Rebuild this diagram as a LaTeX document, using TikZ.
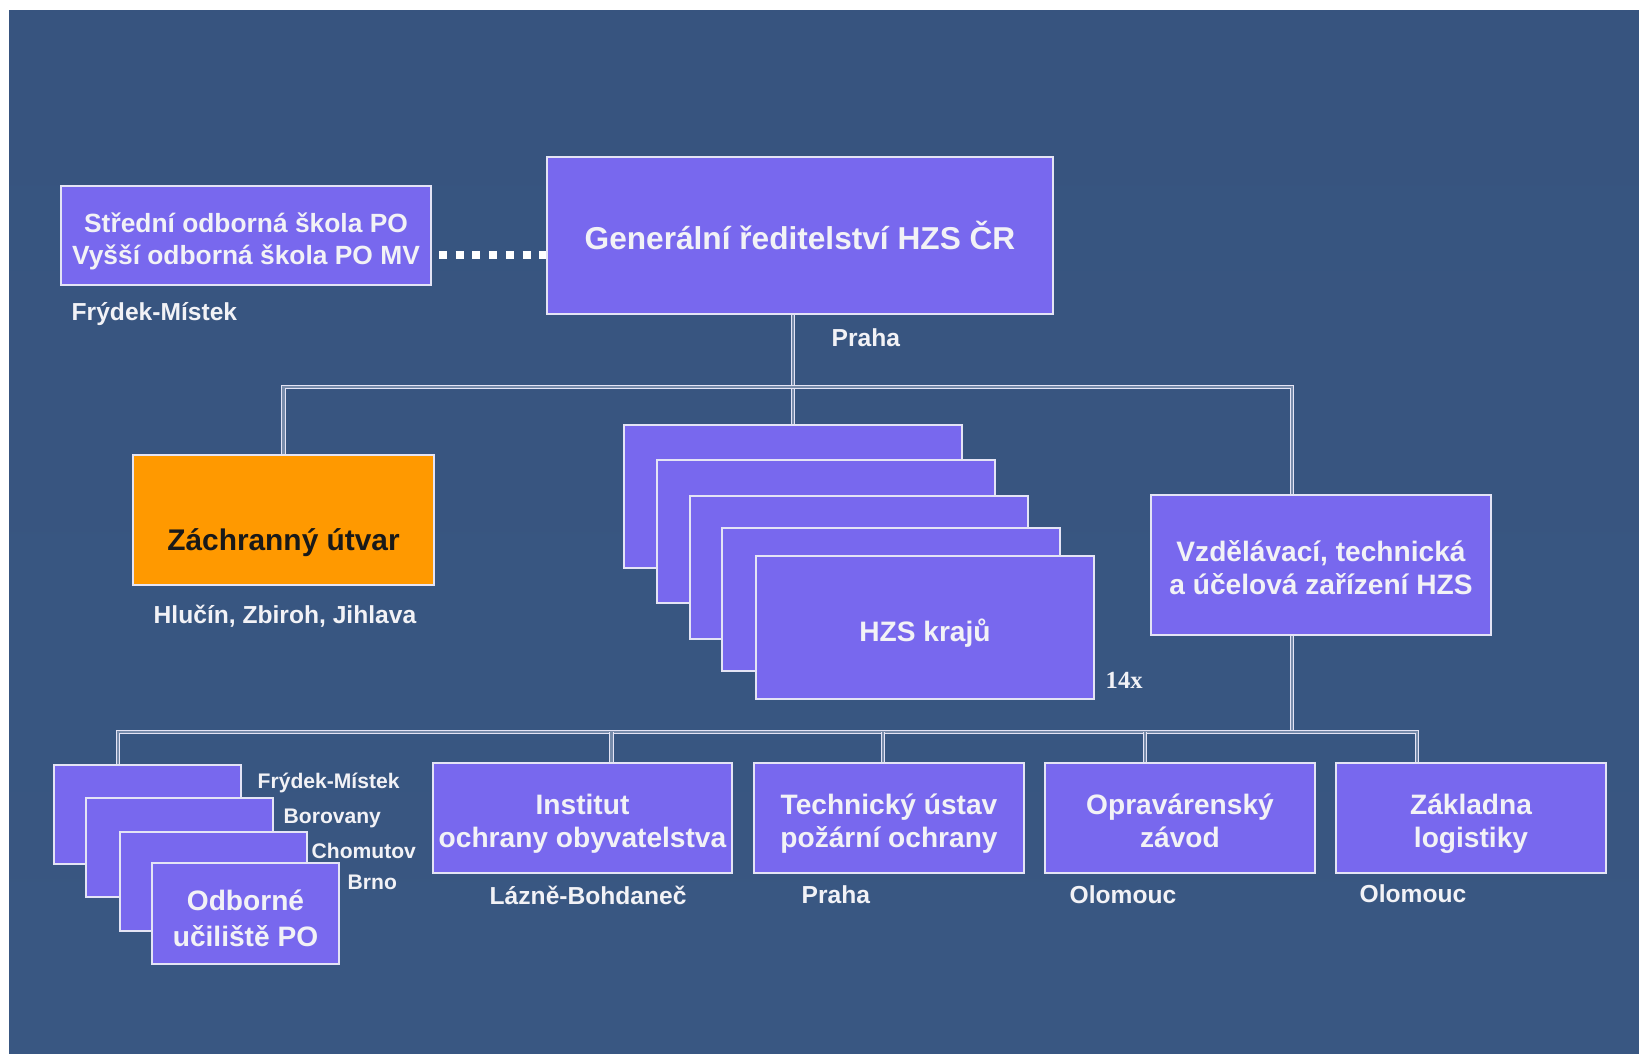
\documentclass[tikz,border=0pt]{standalone}
\usepackage{fontspec}
\setmainfont{Liberation Sans}
\newfontfamily\timesfont{Liberation Serif}
\usetikzlibrary{positioning}

\definecolor{bgblue}{RGB}{61,90,134}
\definecolor{boxblue}{RGB}{120,104,238}
\definecolor{boxorange}{RGB}{255,153,0}
\definecolor{rimwhite}{RGB}{228,228,245}
\definecolor{txtwhite}{RGB}{242,242,246}

\begin{document}
\begin{tikzpicture}
[x=0.1mm, y=-0.1mm,
 box/.style={draw=rimwhite, line width=0.2mm, fill=boxblue, text=txtwhite, align=center, inner sep=0pt,
   font=\fontsize{8}{9.4}\selectfont\bfseries},
 twoline/.style={text height=6mm, text depth=0.1mm},
 lbl/.style={text=txtwhite, anchor=west, inner sep=0pt, font=\fontsize{7}{8}\selectfont\bfseries},
 conn/.style={draw=rimwhite, line width=0.1mm, double=bgblue!70!white, double distance=0.22mm},
 dotline/.style={draw=white, line width=0.8mm, dash pattern=on 0.8mm off 0.87mm}]

% background
\fill[white] (0,0) rectangle (1639,1053);
\shade[top color={rgb,255:red,55;green,84;blue,127}, middle color={rgb,255:red,68;green,98;blue,142},
  bottom color={rgb,255:red,57;green,87;blue,130}] (9,11) rectangle (1639,1053);

% head office
\node[box, minimum width=50.6mm, minimum height=15.7mm, font=\fontsize{9}{11}\selectfont\bfseries]
  (gr) at (800,235.5) {Generální ředitelství HZS ČR};
\node[box, minimum width=37mm, minimum height=9.9mm, left=11.4mm of gr, text height=5.8mm, text depth=0mm,
  font=\fontsize{7.5}{9.1}\selectfont\bfseries] (sos) {Střední odborná škola PO\\Vyšší odborná škola PO MV};

% second level
\node[box, fill=boxorange, text=black!90, minimum width=30.1mm, minimum height=13mm,
  text height=7mm, text depth=1mm, font=\fontsize{8.5}{10}\selectfont\bfseries] (zu) at (283.5,520) {Záchranný útvar};

\foreach \i/\cx/\cy in {1/793/496.5, 2/826/531.5, 3/859/567.5, 4/891/599.5}
  \node[box, minimum width=33.8mm, minimum height=14.3mm] (kraj\i) at (\cx,\cy) {};
\node[box, minimum width=33.8mm, minimum height=14.3mm, text height=3mm, text depth=0.3mm]
  (kraj5) at (925,627.5) {HZS krajů};
\node[lbl, font=\timesfont\fontsize{7}{8}\selectfont\bfseries] (n14) at (1105,680) {14x};

\node[box, twoline, minimum width=34mm, minimum height=14mm] (vz) at (1321,565) {Vzdělávací, technická\\a účelová zařízení HZS};

% third level
\foreach \i/\cx/\cy in {1/147/814.5, 2/179.5/847.5, 3/213/881}
  \node[box, minimum width=18.7mm, minimum height=9.9mm] (ou\i) at (\cx,\cy) {};
\node[box, minimum width=18.7mm, minimum height=10.1mm, text height=6.6mm, text depth=0.1mm,
  font=\fontsize{8}{10.2}\selectfont\bfseries] (ou4) at (245.5,913.5) {Odborné\\učiliště PO};

\node[box, twoline, minimum width=29.9mm, minimum height=11mm] (io) at (582.5,818) {Institut\\ochrany obyvatelstva};
\node[box, twoline, minimum width=27mm, minimum height=11mm, right=2mm of io] (tu) {Technický ústav\\požární ochrany};
\node[box, twoline, minimum width=27mm, minimum height=11mm, right=1.9mm of tu] (oz) {Opravárenský\\závod};
\node[box, twoline, minimum width=27mm, minimum height=11mm, right=1.9mm of oz] (zl) {Základna\\logistiky};

% places
\node[lbl] (fm) at (71,314) {Frýdek-Místek};
\node[lbl] (praha) at (831,338) {Praha};
\node[lbl] (hzj) at (153,616) {Hlučín, Zbiroh, Jihlava};
\node[lbl] (lb) at (489,895) {Lázně-Bohdaneč};
\node[lbl] (praha2) at (801,895) {Praha};
\node[lbl] (olo1) at (1069,895) {Olomouc};
\node[lbl] (olo2) at (1359,894) {Olomouc};
\foreach \i/\t/\x/\y in {1/Frýdek-Místek/257/783, 2/Borovany/283/818, 3/Chomutov/311/851, 4/Brno/347/882}
  \node[lbl, font=\fontsize{6}{7}\selectfont\bfseries] (oulbl\i) at (\x,\y) {\t};

% connectors
\coordinate (topbus) at (794,387);
\coordinate (lowbus) at (800,732);
\draw[dotline, shorten <=0.7mm] ([yshift=-1.9mm]sos.east) -- ([yshift=-1.9mm]gr.west);
\draw[conn] (kraj1.north |- gr.south) -- (kraj1.north);
\draw[conn] (zu.north) |- (topbus) -| ([xshift=-2.9mm]vz.north);
\draw[conn] ([xshift=-2.9mm]vz.south) -- ([xshift=-2.9mm]vz.south |- lowbus);
\draw[conn] ([xshift=-2.9mm]ou1.north) |- (lowbus) -| ([xshift=-5.4mm]zl.north);
\foreach \n/\dx in {io/2.9, tu/-0.6, oz/-3.5}
  \draw[conn] ([xshift=\dx mm]\n.north) -- ([xshift=\dx mm]\n.north |- lowbus);

\end{tikzpicture}
\end{document}
